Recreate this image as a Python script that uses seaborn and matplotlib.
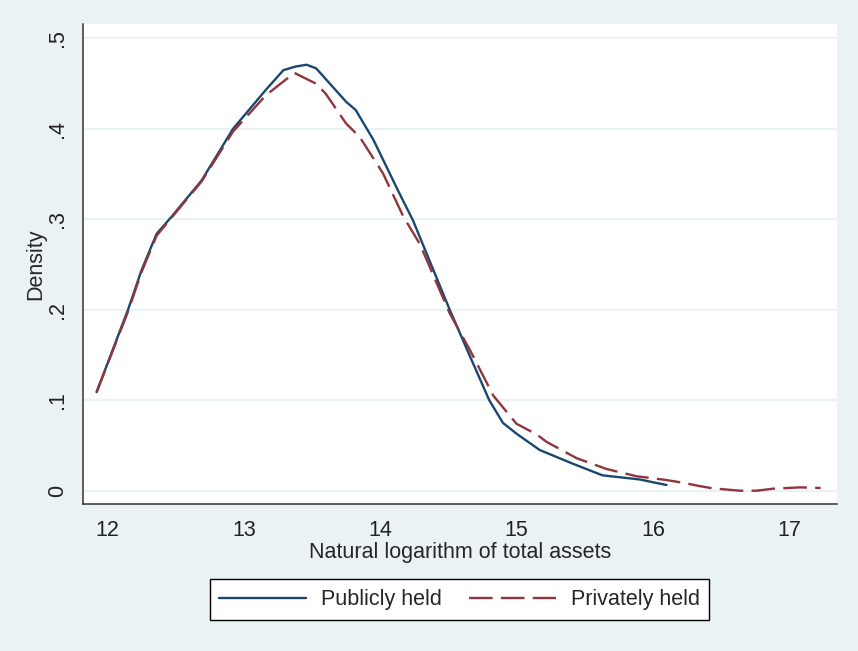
import matplotlib
matplotlib.use('Agg')
import pandas as pd
import matplotlib.pyplot as plt
import seaborn as sns

# Kernel density curves
pub_x = [11.92, 12.15, 12.25, 12.36, 12.47, 12.69, 12.92, 13.16, 13.29, 13.38, 13.46, 13.53,
         13.75, 13.82, 13.95, 14.14, 14.24, 14.51, 14.66, 14.80, 14.90, 15.00, 15.17, 15.41,
         15.63, 15.90, 16.10]
pub_y = [0.109, 0.200, 0.244, 0.284, 0.303, 0.343, 0.400, 0.443, 0.465, 0.469, 0.471, 0.467,
         0.430, 0.421, 0.388, 0.329, 0.299, 0.200, 0.148, 0.100, 0.075, 0.063, 0.045, 0.030,
         0.017, 0.0125, 0.0063]

priv_x = [11.92, 12.15, 12.25, 12.36, 12.47, 12.69, 12.92, 13.16, 13.37, 13.53, 13.60, 13.75,
          13.85, 14.02, 14.17, 14.29, 14.51, 14.66, 14.83, 15.00, 15.15, 15.22, 15.44, 15.66,
          15.88, 16.10, 16.22, 16.34, 16.44, 16.64, 16.76, 16.88, 17.08, 17.23]
priv_y = [0.109, 0.198, 0.242, 0.282, 0.302, 0.342, 0.397, 0.437, 0.462, 0.450, 0.439, 0.406,
          0.391, 0.351, 0.303, 0.273, 0.196, 0.155, 0.105, 0.074, 0.062, 0.054, 0.036, 0.024,
          0.016, 0.0118, 0.0088, 0.0052, 0.0026, 0.0, 0.0, 0.0022, 0.0037, 0.003]

groups = ['Publicly held', 'Privately held']
x_ticks = [12, 13, 14, 15, 16, 17]
y_ticks = [0, 0.1, 0.2, 0.3, 0.4, 0.5]
y_tick_labels = ['0', '.1', '.2', '.3', '.4', '.5']

df = pd.concat([
    pd.DataFrame({'x': pub_x, 'y': pub_y, 'group': groups[0]}),
    pd.DataFrame({'x': priv_x, 'y': priv_y, 'group': groups[1]}),
])

sns.set_style('white')
plt.rcParams['font.family'] = ['Liberation Sans', 'DejaVu Sans']

bg = '#EAF2F3'
fs = 15.5
fig = plt.figure(figsize=(8.58, 6.51), dpi=100, facecolor=bg)
ax = fig.add_axes([0.0967, 0.2258, 0.8788, 0.7373])
ax.set_facecolor('white')

sns.lineplot(data=df, x='x', y='y', hue='group', style='group', hue_order=groups,
             style_order=groups, palette={groups[0]: '#1a476f', groups[1]: '#90353b'},
             dashes={groups[0]: '', groups[1]: (10, 3.5)}, linewidth=1.7,
             errorbar=None, legend=False, ax=ax)

ax.set_xlim(11.82, 17.35)
ax.set_ylim(-0.0147, 0.516)
ax.set_xticks(x_ticks)
ax.set_yticks(y_ticks)
ax.set_yticklabels(y_tick_labels, rotation=90, va='center')
ax.tick_params(axis='both', labelsize=fs, colors='#222222', length=5.5, width=1.1, direction='out')
ax.tick_params(axis='y', pad=5)
ax.tick_params(axis='x', pad=6)
ax.yaxis.grid(True, color=bg, linewidth=1.6)
ax.set_axisbelow(True)

for s in ['top', 'right']:
    ax.spines[s].set_visible(False)
for s in ['left', 'bottom']:
    ax.spines[s].set_color('#333333')
    ax.spines[s].set_linewidth(1.1)

ax.set_xlabel('Natural logarithm of total assets', fontsize=fs, labelpad=1)
ax.set_ylabel('Density', fontsize=fs, labelpad=1)

handles = ax.lines[:2]
fig.legend(handles, groups, loc='center', bbox_to_anchor=(0.5356, 0.079), ncol=2,
           fontsize=fs, frameon=True, fancybox=False, edgecolor='black', framealpha=1,
           handlelength=4.0, handletextpad=0.7, columnspacing=1.3, borderpad=0.45)
fig.legends[0].get_frame().set_linewidth(1.0)

fig.savefig('out.png', dpi=100, facecolor=bg)
